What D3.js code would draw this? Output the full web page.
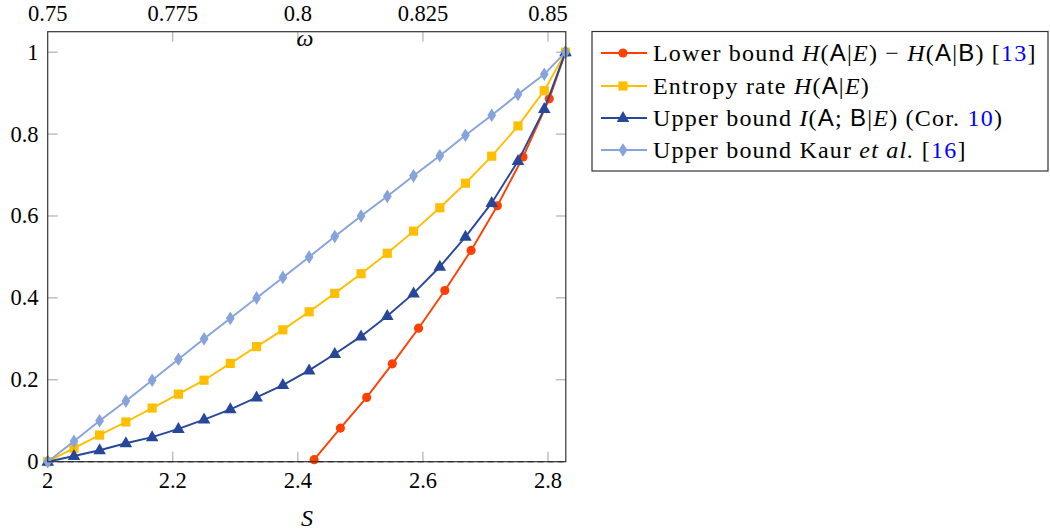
<!DOCTYPE html>
<html>
<head>
<meta charset="utf-8">
<style>
  body { margin: 0; background: #fff; }
  svg text { font-family: "Liberation Serif", "Times New Roman", serif; fill: #000; }
</style>
</head>
<body>
<div id="chart"></div>
<script src="https://d3js.org/d3.v7.min.js"></script>
<script>
// values
var sVals    = [2.000, 2.042, 2.083, 2.125, 2.167, 2.209, 2.250, 2.292, 2.334, 2.376, 2.418,
                2.459, 2.501, 2.543, 2.585, 2.627, 2.668, 2.710, 2.752, 2.794, 2.828]
var kaur     = [0, 0.050, 0.100, 0.148, 0.199, 0.250, 0.300, 0.350, 0.400, 0.450, 0.500,
                0.550, 0.600, 0.648, 0.698, 0.747, 0.797, 0.846, 0.897, 0.946, 1.0]
var entropy  = [0, 0.033, 0.065, 0.097, 0.131, 0.165, 0.199, 0.240, 0.281, 0.322, 0.366,
                0.411, 0.459, 0.509, 0.563, 0.620, 0.680, 0.746, 0.820, 0.906, 1.0]
var upperCor = [0, 0.014, 0.028, 0.045, 0.060, 0.080, 0.103, 0.128, 0.157, 0.187, 0.223,
                0.263, 0.306, 0.356, 0.411, 0.476, 0.549, 0.632, 0.734, 0.861, 1.0]
var sLower   = [2.426, 2.468, 2.510, 2.551, 2.593, 2.635, 2.677, 2.719, 2.760, 2.802, 2.828]
var lower    = [0.005, 0.082, 0.157, 0.239, 0.326, 0.418, 0.516, 0.625, 0.744, 0.886, 1.0]

var sTicks     = [2, 2.2, 2.4, 2.6, 2.8]
var omegaTicks = [0.75, 0.775, 0.8, 0.825, 0.85]
var yTicks     = [0, 0.2, 0.4, 0.6, 0.8, 1]

var W = 1050, Hpx = 531
var pL = 47.7, pR = 565.8, pT = 31.7, pB = 461.7
var serif = "'Liberation Serif', 'Times New Roman', serif"

var svg = d3.select("#chart").append("svg")
  .attr("width", W).attr("height", Hpx)

var x = d3.scaleLinear().domain([2, 2 * Math.SQRT2]).range([pL, pR])
var xTop = d3.scaleLinear().domain([0.75, 0.5 + Math.SQRT2 / 4]).range([pL, pR])
var y = d3.scaleLinear().domain([0, 1.05]).range([pB, pT])

// ticks (inward, grey)
var tickCol = "#a0a0a0", tl = 10
var g = svg.append("g")
g.selectAll(".tb").data(sTicks.slice(1)).enter().append("line")
  .attr("x1", d => x(d)).attr("x2", d => x(d)).attr("y1", pB).attr("y2", pB - tl)
  .attr("stroke", tickCol)
g.selectAll(".tt").data(omegaTicks.slice(1)).enter().append("line")
  .attr("x1", d => xTop(d)).attr("x2", d => xTop(d)).attr("y1", pT).attr("y2", pT + tl)
  .attr("stroke", tickCol)
g.selectAll(".tl").data(yTicks.slice(1)).enter().append("line")
  .attr("x1", pL).attr("x2", pL + tl).attr("y1", d => y(d)).attr("y2", d => y(d))
  .attr("stroke", tickCol)
g.selectAll(".tr").data(yTicks.slice(1)).enter().append("line")
  .attr("x1", pR).attr("x2", pR - tl).attr("y1", d => y(d)).attr("y2", d => y(d))
  .attr("stroke", tickCol)

// tick labels
var fs = 22.5
g.selectAll(".lb").data(sTicks).enter().append("text")
  .attr("x", d => x(d)).attr("y", 488).attr("text-anchor", "middle")
  .attr("font-family", serif).style("font-size", fs + "px").text(d => String(d))
g.selectAll(".lt").data(omegaTicks).enter().append("text")
  .attr("x", d => xTop(d)).attr("y", 21).attr("text-anchor", "middle")
  .attr("font-family", serif).style("font-size", fs + "px").text(d => String(d))
g.selectAll(".ll").data(yTicks).enter().append("text")
  .attr("x", 38.5).attr("y", d => y(d) + 7.5).attr("text-anchor", "end")
  .attr("font-family", serif).style("font-size", fs + "px").text(d => String(d))

// axis labels
svg.append("text").attr("x", 305).attr("y", 46).attr("text-anchor", "middle")
  .attr("font-family", serif).style("font-size", "24px").style("font-style", "italic").text("ω")
svg.append("text").attr("x", 307).attr("y", 526).attr("text-anchor", "middle")
  .attr("font-family", serif).style("font-size", "24px").style("font-style", "italic").text("S")

// zero line
svg.append("line").attr("x1", x(2)).attr("x2", x(2 * Math.SQRT2))
  .attr("y1", y(0)).attr("y2", y(0))
  .attr("stroke", "#000").attr("stroke-dasharray", "6,4").attr("stroke-width", 1.2)

// series
var series = [
  { name: "lower", xs: sLower, ys: lower, color: "#ff4000", mark: "circle" },
  { name: "entropy", xs: sVals, ys: entropy, color: "#ffbf00", mark: "square" },
  { name: "upper", xs: sVals, ys: upperCor, color: "#27479b", mark: "triangle" },
  { name: "kaur", xs: sVals, ys: kaur, color: "#87a3dc", mark: "diamond" }
]

function markPath(m) {
  if (m === "circle") return d3.symbol(d3.symbolCircle, 66)()
  if (m === "square") return "M-4.6,-4.6H4.6V4.6H-4.6Z"
  if (m === "triangle") return "M0,-7L6.3,4L-6.3,4Z"
  return "M0,-6.8L4.4,0L0,6.8L-4.4,0Z"
}

var line = d3.line().x(d => x(d[0])).y(d => y(d[1]))
var plot = svg.append("g")
series.forEach(function (s) {
  var pts = s.xs.map((v, i) => [v, s.ys[i]])
  plot.append("path").datum(pts).attr("d", line)
    .attr("fill", "none").attr("stroke", s.color).attr("stroke-width", 1.9)
  plot.selectAll(".m-" + s.name).data(pts).enter().append("path")
    .attr("d", markPath(s.mark))
    .attr("transform", d => "translate(" + x(d[0]) + "," + y(d[1]) + ")")
    .attr("fill", s.color)
})

// frame
svg.append("rect").attr("x", pL).attr("y", pT)
  .attr("width", pR - pL).attr("height", pB - pT)
  .attr("fill", "none").attr("stroke", "#333").attr("stroke-width", 1.2)

// legend
var lg = svg.append("g")
lg.append("rect").attr("x", 592).attr("y", 31.5).attr("width", 456).attr("height", 139.5)
  .attr("fill", "#fff").attr("stroke", "#333").attr("stroke-width", 1.2)

var rowsY = [53, 86, 118, 150]
var blue = "#0000ff"
// each entry is a list of [text, style] runs
var legendRuns = [
  [["Lower bound ", ""], ["H", "i"], ["(", ""], ["A", "s"], ["|", ""], ["E", "i"], [") − ", ""],
   ["H", "i"], ["(", ""], ["A", "s"], ["|", ""], ["B", "s"], [") [", ""], ["13", "b"], ["]", ""]],
  [["Entropy rate ", ""], ["H", "i"], ["(", ""], ["A", "s"], ["|", ""], ["E", "i"], [")", ""]],
  [["Upper bound ", ""], ["I", "i"], ["(", ""], ["A", "s"], ["; ", ""], ["B", "s"], ["|", ""], ["E", "i"],
   [") (Cor. ", ""], ["10", "b"], [")", ""]],
  [["Upper bound Kaur ", ""], ["et al.", "i"], [" [", ""], ["16", "b"], ["]", ""]]
]

series.forEach(function (s, i) {
  var cy = rowsY[i]
  lg.append("line").attr("x1", 601).attr("x2", 647).attr("y1", cy).attr("y2", cy)
    .attr("stroke", s.color).attr("stroke-width", 1.9)
  lg.append("path").attr("d", markPath(s.mark))
    .attr("transform", "translate(623," + cy + ")").attr("fill", s.color)
  var t = lg.append("text").attr("x", 653).attr("y", cy + 7.5)
    .attr("font-family", serif)
    .style("font-size", "24px").style("letter-spacing", "1.2px")
  legendRuns[i].forEach(function (r) {
    var sp = t.append("tspan").text(r[0])
    if (r[1] === "i") sp.style("font-style", "italic")
    if (r[1] === "s") sp.attr("font-family", "'Liberation Sans', sans-serif")
    if (r[1] === "b") sp.style("fill", blue)
  })
})
</script>
</body>
</html>
